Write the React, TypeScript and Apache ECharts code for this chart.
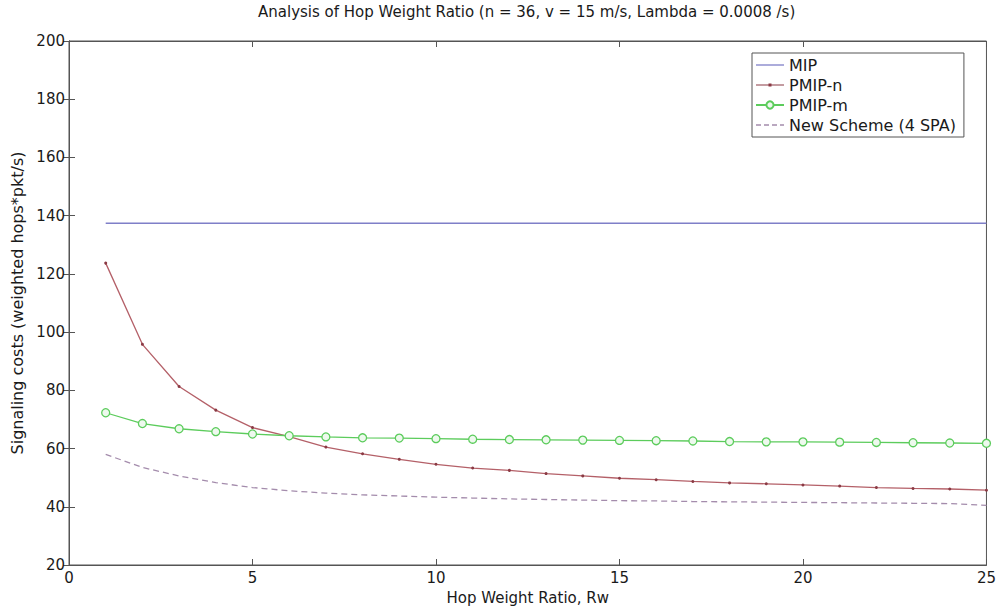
import React, { useEffect, useRef } from "react";
import * as echarts from "echarts";

const xValues = [1, 2, 3, 4, 5, 6, 7, 8, 9, 10, 11, 12, 13, 14, 15, 16, 17, 18, 19, 20, 21, 22, 23, 24, 25];
const mip = [137.4, 137.4, 137.4, 137.4, 137.4, 137.4, 137.4, 137.4, 137.4, 137.4, 137.4, 137.4, 137.4, 137.4, 137.4, 137.4, 137.4, 137.4, 137.4, 137.4, 137.4, 137.4, 137.4, 137.4, 137.4];
const pmipN = [123.7, 95.8, 81.3, 73.2, 67.2, 64.1, 60.5, 58.2, 56.3, 54.6, 53.3, 52.5, 51.4, 50.6, 49.8, 49.3, 48.7, 48.2, 47.9, 47.5, 47.1, 46.6, 46.3, 46.1, 45.7];
const pmipM = [72.3, 68.6, 66.8, 65.8, 65.0, 64.4, 64.0, 63.7, 63.6, 63.4, 63.2, 63.1, 63.0, 62.9, 62.8, 62.7, 62.6, 62.4, 62.3, 62.3, 62.2, 62.1, 62.0, 61.9, 61.8];
const newScheme = [58.0, 53.5, 50.6, 48.3, 46.6, 45.5, 44.7, 44.1, 43.7, 43.3, 43.0, 42.7, 42.5, 42.3, 42.1, 42.0, 41.8, 41.7, 41.6, 41.5, 41.4, 41.3, 41.2, 41.1, 40.5];

const seriesNames = ["MIP", "PMIP-n", "PMIP-m", "New Scheme (4 SPA)"];
const titleText = "Analysis of Hop Weight Ratio (n = 36, v = 15 m/s, Lambda = 0.0008 /s)";
const xName = "Hop Weight Ratio, Rw";
const yName = "Signaling costs (weighted hops*pkt/s)";

const pairs = (ys: number[]) => xValues.map((x, i) => [x, ys[i]]);

export default function App() {
  const ref = useRef<HTMLDivElement>(null);
  useEffect(() => {
    if (!ref.current) return;
    const chart = echarts.init(ref.current, null, { renderer: "svg" });
    const font = "'DejaVu Sans', Verdana, sans-serif";
    const axisColor = "#555";
    const textColor = "#1a1a1a";
    const tickBase = {
      axisLine: { show: true, lineStyle: { color: axisColor } },
      axisTick: { show: true, inside: true, length: 6, lineStyle: { color: axisColor } },
      splitLine: { show: false },
    };
    chart.setOption({
      animation: false,
      backgroundColor: "#fff",
      textStyle: { fontFamily: font },
      title: {
        text: titleText,
        left: 258,
        top: 0,
        padding: [4, 0, 4, 0],
        textStyle: { fontSize: 15, fontWeight: "normal", color: textColor, fontFamily: font },
      },
      grid: {
        left: 69,
        right: 10,
        top: 41,
        bottom: 43,
        show: true,
        borderColor: axisColor,
        borderWidth: 1,
        backgroundColor: "transparent",
      },
      legend: {
        orient: "vertical",
        left: 752,
        top: 53,
        data: [
          { name: seriesNames[0], icon: "path://M0,0H28V1.3H0Z" },
          { name: seriesNames[1], icon: "path://M0,0.9H28V2.1H0Z M12.5,0H15.5V3H12.5Z" },
          { name: seriesNames[2] },
          { name: seriesNames[3], icon: "path://M0,0H5V1.3H0Z M8,0H13V1.3H8Z M16,0H21V1.3H16Z M24,0H28V1.3H24Z" },
        ],
        backgroundColor: "#fff",
        borderColor: "#555",
        borderWidth: 1,
        borderRadius: 0,
        padding: [4, 8, 4, 3],
        itemWidth: 28,
        itemHeight: 9,
        itemGap: 4,
        textStyle: { fontSize: 16, color: textColor, fontFamily: font },
      },
      xAxis: [
        {
          type: "value",
          min: 0,
          max: 25,
          interval: 5,
          name: xName,
          nameLocation: "middle",
          nameGap: 25,
          nameTextStyle: { fontSize: 15, color: textColor },
          axisLabel: { fontSize: 15, color: textColor, margin: 5 },
          ...tickBase,
        },
        {
          type: "value",
          position: "top",
          min: 0,
          max: 25,
          interval: 5,
          axisLabel: { show: false },
          ...tickBase,
        },
      ],
      yAxis: [
        {
          type: "value",
          min: 20,
          max: 200,
          interval: 20,
          name: yName,
          nameLocation: "middle",
          nameGap: 40,
          nameTextStyle: { fontSize: 16, color: textColor },
          axisLabel: { fontSize: 15, color: textColor, margin: 4 },
          ...tickBase,
        },
        {
          type: "value",
          position: "right",
          min: 20,
          max: 200,
          interval: 20,
          axisLabel: { show: false },
          ...tickBase,
        },
      ],
      series: [
        {
          name: seriesNames[0],
          type: "line",
          data: pairs(mip),
          showSymbol: false,
          symbol: "none",
          lineStyle: { color: "#7f7fc8", width: 1.3 },
          itemStyle: { color: "#7f7fc8" },
        },
        {
          name: seriesNames[1],
          type: "line",
          data: pairs(pmipN),
          symbol: "circle",
          symbolSize: 3,
          lineStyle: { color: "#b46068", width: 1.3 },
          itemStyle: { color: "#8a3a44" },
        },
        {
          name: seriesNames[2],
          type: "line",
          data: pairs(pmipM),
          symbol: "circle",
          symbolSize: 8,
          lineStyle: { color: "#5ccc5c", width: 1.3 },
          itemStyle: { color: "#eef9ee", borderColor: "#5ccc5c", borderWidth: 1.3 },
        },
        {
          name: seriesNames[3],
          type: "line",
          data: pairs(newScheme),
          showSymbol: false,
          symbol: "none",
          lineStyle: { color: "#a48cac", width: 1.3, type: [6, 4] },
          itemStyle: { color: "#a48cac" },
        },
      ],
    });
    return () => chart.dispose();
  }, []);
  return <div ref={ref} style={{ width: 999, height: 610, position: "absolute", left: 0, top: 0 }} />;
}
